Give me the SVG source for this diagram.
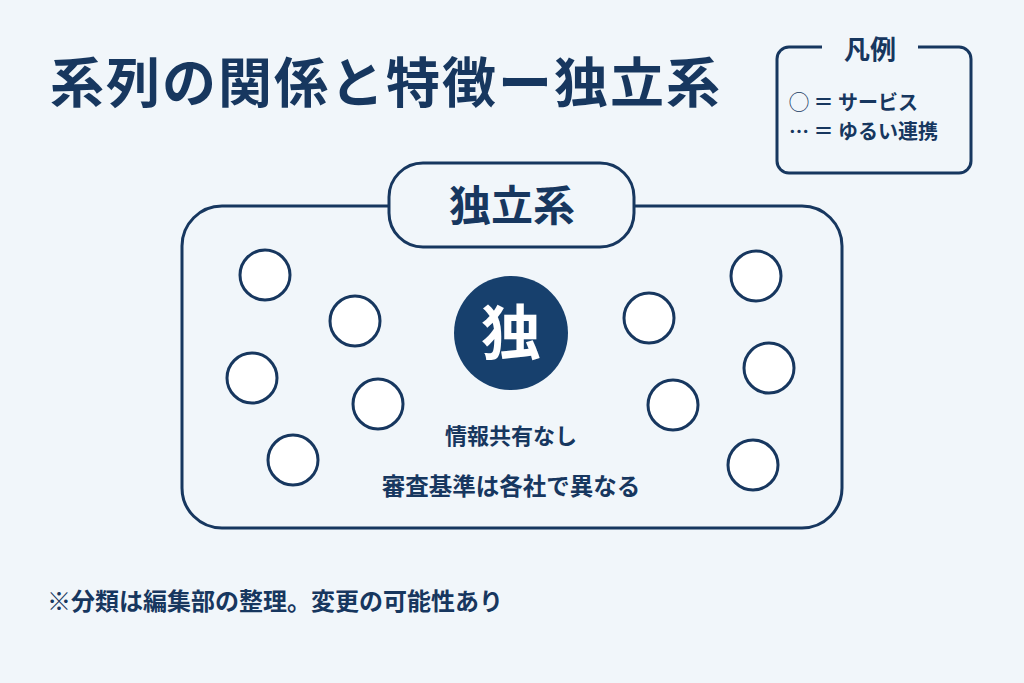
<svg xmlns="http://www.w3.org/2000/svg" width="1024" height="683" viewBox="0 0 1024 683">
<defs>
<style>
.t{font-family:"Noto Sans CJK JP","Noto Sans CJK SC",sans-serif;font-weight:700;fill:#17375f}
.svc{fill:#ffffff;stroke:#17375f;stroke-width:3}
.frame{fill:#f1f6fa;stroke:#17375f;stroke-width:3}
</style>
</defs>
<rect width="1024" height="683" fill="#f1f6fa"/>
<text class="t" x="50" y="103" font-size="54" letter-spacing="2">系列の関係と特徴ー独立系</text>
<g id="legend">
<rect x="777" y="47" width="194" height="126" rx="12" class="frame"/>
<rect x="822" y="33" width="96" height="28" fill="#f1f6fa"/>
<text class="t" x="870" y="59" font-size="26" text-anchor="middle">凡例</text>
<text class="t" x="789" y="110" font-size="20">◯ ＝ サービス</text>
<text class="t" x="789" y="139" font-size="20">… ＝ ゆるい連携</text>
</g>
<g id="group-box">
<rect x="182" y="206" width="660" height="322" rx="40" class="frame"/>
</g>
<g id="title-pill">
<rect x="389" y="163" width="245" height="84" rx="34" class="frame"/>
<text class="t" x="512" y="221" font-size="42" text-anchor="middle">独立系</text>
</g>
<g id="center">
<circle cx="511" cy="333" r="57" fill="#17406d"/>
<text x="511" y="355" font-size="60" text-anchor="middle" font-family="Noto Sans CJK JP,sans-serif" font-weight="700" fill="#ffffff">独</text>
</g>
<g id="services">
<circle id="s1" class="svc" cx="265" cy="275" r="25"/>
<circle id="s2" class="svc" cx="355" cy="321" r="25"/>
<circle id="s3" class="svc" cx="252" cy="378" r="25"/>
<circle id="s4" class="svc" cx="378" cy="404" r="25"/>
<circle id="s5" class="svc" cx="293" cy="460" r="25"/>
<circle id="s6" class="svc" cx="756" cy="276" r="25"/>
<circle id="s7" class="svc" cx="649" cy="318" r="25"/>
<circle id="s8" class="svc" cx="769" cy="368" r="25"/>
<circle id="s9" class="svc" cx="673" cy="405" r="25"/>
<circle id="s10" class="svc" cx="753" cy="465" r="25"/>
</g>
<g id="notes">
<text class="t" x="511" y="444" font-size="22" text-anchor="middle">情報共有なし</text>
<text class="t" x="511" y="495" font-size="23.5" text-anchor="middle">審査基準は各社で異なる</text>
</g>
<g id="connectors"></g>
<text class="t" x="47" y="610" font-size="24">※分類は編集部の整理。変更の可能性あり</text>
</svg>
